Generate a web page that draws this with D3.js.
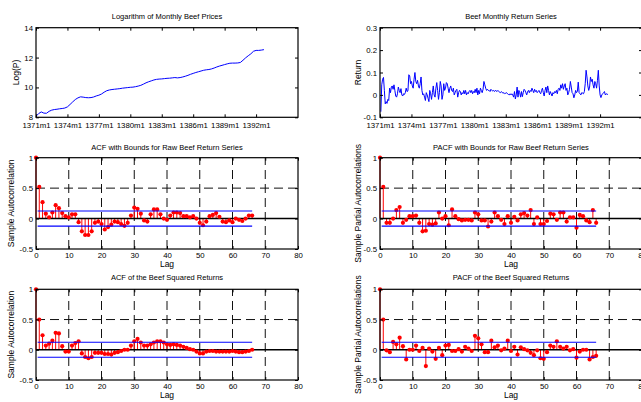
<!DOCTYPE html>
<html>
<head>
<meta charset="utf-8">
<script src="https://cdn.jsdelivr.net/npm/d3@7"></script>
<style>
body { margin: 0; background: #fff; }
svg text { font-family: Arial, "Liberation Sans", sans-serif; fill: #000; }
</style>
</head>
<body>
<div id="container"></div>
<script>
// ---- data ----
let dateTicks = ["1371m1","1374m1","1377m1","1380m1","1383m1","1386m1","1389m1","1392m1"];

// log price, one value every 3 months from 1371m1
let logPrice = [
  8.07, 8.25, 8.36, 8.28, 8.27, 8.4, 8.48, 8.52, 8.54, 8.57,
  8.59, 8.62, 8.7, 8.86, 9.03, 9.19, 9.3, 9.37, 9.35, 9.32,
  9.31, 9.32, 9.36, 9.43, 9.48, 9.56, 9.68, 9.78, 9.83, 9.86,
  9.88, 9.9, 9.92, 9.95, 9.97, 9.99, 10.01, 10.02, 10.05, 10.09,
  10.14, 10.22, 10.31, 10.38, 10.44, 10.5, 10.54, 10.56, 10.57, 10.59,
  10.61, 10.62, 10.64, 10.66, 10.64, 10.66, 10.7, 10.75, 10.81, 10.88,
  10.94, 11.0, 11.05, 11.1, 11.15, 11.18, 11.2, 11.24, 11.3, 11.37,
  11.43, 11.48, 11.53, 11.58, 11.62, 11.63, 11.63, 11.64, 11.67, 11.82,
  11.98, 12.12, 12.25, 12.42, 12.48, 12.48, 12.5, 12.53
];

// monthly returns from 1371m2
let returns = [
  -0.075, 0.045, 0.07, 0.078, 0.02, -0.04, -0.03, -0.038, -0.02, -0.025,
  0.03, 0.01, 0.035, 0.04, 0.025, 0.045, 0.02, -0.005, -0.01, 0.005,
  0.035, 0.02, 0.01, 0.028, 0.0, -0.005, 0.005, 0.002, 0.01, 0.03,
  0.015, 0.018, 0.09, 0.085, 0.05, 0.06, 0.04, 0.03, 0.07, 0.1,
  0.06, 0.05, 0.065, 0.04, 0.03, 0.05, 0.08, 0.02, 0.0, 0.005,
  -0.01, -0.025, 0.01, 0.0, -0.015, -0.03, 0.02, 0.005, -0.02, 0.01,
  0.04, 0.0, -0.01, 0.03, 0.055, 0.02, -0.02, 0.01, 0.06, 0.04,
  -0.02, 0.0, 0.05, 0.02, 0.03, 0.055, 0.05, 0.03, 0.01, 0.03,
  0.04, 0.02, 0.015, 0.03, 0.0, 0.01, 0.02, 0.025, -0.01, 0.01,
  0.02, 0.015, 0.0, 0.01, 0.005, 0.02, 0.005, 0.02, 0.0, 0.01,
  0.005, 0.015, 0.02, 0.01, 0.02, 0.005, 0.015, 0.01, 0.025, 0.01,
  0.03, 0.0, 0.02, 0.005, 0.03, 0.02, 0.01, 0.025, 0.06, 0.045,
  0.03, 0.02, 0.025, 0.02, 0.02, 0.015, 0.025, 0.02, 0.018, 0.02,
  0.015, 0.02, 0.018, 0.015, 0.02, 0.015, 0.012, 0.01, 0.015, 0.01,
  0.008, 0.01, 0.005, 0.008, 0.01, 0.005, 0.002, 0.0, 0.005, 0.0,
  0.005, 0.0, -0.01, 0.015, -0.018, 0.0, 0.035, -0.01, 0.02, 0.01,
  -0.01, 0.015, -0.008, 0.01, 0.025, 0.02, 0.01, 0.0, 0.015, 0.02,
  0.01, 0.02, 0.015, 0.03, 0.02, 0.01, 0.025, 0.015, 0.02, 0.01,
  0.015, 0.02, 0.01, 0.005, 0.02, 0.03, 0.01, -0.005, 0.02, 0.035,
  0.01, 0.04, 0.02, 0.0, 0.015, 0.005, -0.005, 0.01, 0.005, 0.015,
  0.01, 0.02, 0.005, 0.025, 0.03, 0.02, 0.045, 0.03, 0.05, 0.025,
  0.04, 0.05, 0.02, 0.03, 0.0, 0.01, 0.025, 0.06, 0.035, 0.01,
  0.005, -0.013, 0.0, 0.02, 0.01, 0.015, 0.057, 0.01, 0.005, 0.0,
  0.01, 0.008, 0.005, 0.015, 0.05, 0.11, 0.08, 0.04, 0.02, 0.035,
  0.08, 0.06, 0.07, 0.045, 0.03, 0.06, 0.05, 0.03, 0.065, 0.11,
  0.04, 0.0, -0.012, 0.0, 0.005, 0.01, 0.015, 0.0, 0.005, 0.003, 0.002
];

// lags 0..66
let acfRaw = [
  1, 0.52, 0.27, 0.08, 0.02, 0.1, 0.22, 0.17, 0.09, 0.04,
  0.02, 0.07, 0.07, -0.06, -0.21, -0.27, -0.27, -0.21, -0.07, -0.05,
  -0.09, -0.18, -0.14, -0.1, -0.05, -0.06, -0.09, -0.12, -0.07, 0.05,
  0.18, 0.16, 0.08, -0.03, -0.05, 0.07, 0.15, 0.15, 0.07, 0.0,
  -0.02, 0.05, 0.1, 0.1, 0.09, 0.04, 0.04, 0.02, 0.04, 0.0,
  -0.07, -0.11, -0.05, 0.04, 0.06, 0.09, 0.03, -0.05, -0.06, -0.03,
  -0.06, 0.0, -0.02, -0.04, 0.0, 0.05, 0.05
];
let pacfRaw = [
  1, 0.52, -0.07, -0.07, 0.0, 0.14, 0.19, -0.07, -0.02, 0.04,
  0.04, 0.05, -0.07, -0.21, -0.2, -0.09, -0.1, -0.08, 0.1, 0.0,
  0.04, -0.11, 0.15, 0.04, -0.01, -0.03, -0.02, -0.02, -0.03, 0.1,
  0.07, -0.03, -0.03, -0.13, -0.05, 0.1, 0.04, -0.02, -0.09, 0.04,
  -0.07, 0.03, -0.03, 0.07, 0.09, 0.05, 0.14, -0.09, 0.02, -0.09,
  -0.09, -0.04, 0.08, 0.07, -0.02, 0.1, 0.1, -0.05, 0.02, 0.02,
  -0.15, 0.06, 0.04, -0.03, -0.06, 0.14, -0.07
];
let acfSq = [
  1, 0.5, 0.24, 0.07, 0.1, 0.15, 0.28, 0.27, 0.06, -0.03,
  -0.03, 0.07, 0.11, 0.14, -0.06, -0.12, -0.14, -0.12, -0.05, -0.05,
  -0.05, -0.07, -0.07, -0.08, -0.05, -0.04, -0.02, 0.0, 0.0, 0.07,
  0.14, 0.18, 0.12, 0.07, 0.07, 0.09, 0.12, 0.14, 0.14, 0.12,
  0.09, 0.08, 0.09, 0.08, 0.07, 0.05, 0.03, 0.01, 0.0, -0.03,
  -0.06, -0.06, -0.03, -0.02, -0.02, -0.03, -0.03, -0.03, -0.03, -0.03,
  -0.02, -0.03, -0.04, -0.04, -0.03, -0.02, 0.0
];
let pacfSq = [
  1, 0.5, -0.01, -0.04, 0.13, 0.09, 0.2, 0.06, -0.16, 0.0,
  0.0, 0.07, -0.02, 0.03, -0.27, 0.02, -0.03, -0.15, 0.03, -0.09,
  0.07, 0.08, -0.02, -0.02, 0.01, -0.03, 0.05, 0.02, -0.02, 0.23,
  0.19, 0.09, -0.04, -0.04, 0.15, 0.04, 0.07, -0.01, 0.02, 0.15,
  -0.02, 0.05, -0.08, 0.04, 0.01, -0.01, -0.05, -0.09, -0.01, -0.14,
  -0.15, -0.04, 0.07, 0.05, 0.14, 0.05, 0.02, 0.05, -0.01, 0.01,
  -0.13, -0.03, 0.0, 0.0, -0.16, -0.12, -0.1
];
let bound = 0.124;   // 2/sqrt(n)

let priceTicks = [8, 10, 12, 14];
let returnTicks = [-0.1, 0, 0.1, 0.2, 0.3];
let acfTicks = [-0.5, 0, 0.5, 1];
let lagTicks = [0, 10, 20, 30, 40, 50, 60, 70, 80];

// ---- layout ----
let colLeft = [36, 380];
let rowTop = [27.7, 157.7, 289.3];
let rowH = [89.6, 91.3, 90.7];
let titleGap = [9, 7.3, 8.9];
let plotW = 262;

let svg = d3.select("#container")
  .append("svg")
    .attr("width", 641)
    .attr("height", 402)
;

function makePanel(col, row, title, ylab, ylabOff) {
  let h = rowH[row];
  let g = svg.append("g")
    .attr("transform", "translate(" + colLeft[col] + "," + rowTop[row] + ")");
  g.append("text")
    .attr("x", plotW / 2)
    .attr("y", -titleGap[row])
    .attr("text-anchor", "middle")
    .attr("font-size", 7.5)
    .text(title);
  g.append("text")
    .attr("transform", "translate(" + ylabOff + "," + (h / 2) + ") rotate(-90)")
    .attr("text-anchor", "middle")
    .attr("font-size", 8.5)
    .text(ylab);
  return g;
}

function drawAxes(g, x, y, h, xVals, xFormat, yVals, xPad) {
  let fmt = d => String(d);
  g.append("g").attr("transform", "translate(0," + h + ")")
    .call(d3.axisBottom(x).tickValues(xVals).tickFormat(xFormat).tickSize(-3).tickPadding(xPad));
  g.append("g")
    .call(d3.axisTop(x).tickValues(xVals).tickFormat("").tickSize(-3));
  g.append("g")
    .call(d3.axisLeft(y).tickValues(yVals).tickFormat(fmt).tickSize(-3).tickPadding(3));
  g.append("g").attr("transform", "translate(" + plotW + ",0)")
    .call(d3.axisRight(y).tickValues(yVals).tickFormat("").tickSize(-3));
  g.selectAll(".domain").remove();
  g.selectAll(".tick line").attr("stroke", "#000").attr("stroke-width", 1);
  g.selectAll(".tick text").attr("font-size", 7.8).attr("font-family", null).attr("fill", "#000");
  g.append("rect")
    .attr("x", 0).attr("y", 0)
    .attr("width", plotW).attr("height", h)
    .attr("fill", "none")
    .attr("stroke", "#000")
    .attr("stroke-width", 1.2);
}

// ---- time series panels ----
function timePanel(col, title, ylab, ylabOff, values, step, start, yDomain, yVals) {
  let h = rowH[0];
  let g = makePanel(col, 0, title, ylab, ylabOff);
  let x = d3.scaleLinear().domain([0, 300]).range([0, plotW]);
  let y = d3.scaleLinear().domain(yDomain).range([h, 0]);
  let line = d3.line()
    .x((d, i) => x(start + i * step))
    .y(d => y(d));
  g.append("path")
    .datum(values)
    .attr("d", line)
    .attr("fill", "none")
    .attr("stroke", "#0000ff")
    .attr("stroke-width", 1);
  drawAxes(g, x, y, h, dateTicks.map((d, i) => i * 36), (d, i) => dateTicks[i], yVals, 5);
}

timePanel(0, "Logarithm of Monthly Beef Prices", "Log(P)", -17, logPrice, 3, 0, [8, 14], priceTicks);
timePanel(1, "Beef Monthly Return Series", "Return", -19.3, returns, 1, 1, [-0.1, 0.3], returnTicks);

// ---- correlogram panels ----
function corrPanel(col, row, title, ylab, ylabOff, values) {
  let h = rowH[row];
  let g = makePanel(col, row, title, ylab, ylabOff);
  let x = d3.scaleLinear().domain([0, 80]).range([0, plotW]);
  let y = d3.scaleLinear().domain([-0.5, 1]).range([h, 0]);

  g.append("text")
    .attr("x", plotW / 2)
    .attr("y", h + 18)
    .attr("text-anchor", "middle")
    .attr("font-size", 8.5)
    .text("Lag");

  // dashed grid
  g.selectAll(".vgrid").data(lagTicks.slice(1, -1)).enter()
    .append("line")
      .attr("x1", d => x(d)).attr("x2", d => x(d))
      .attr("y1", h).attr("y2", 0)
      .attr("stroke", "#111")
      .attr("stroke-width", 1)
      .attr("stroke-dasharray", "9,5");
  g.append("line")
    .attr("x1", 0).attr("x2", plotW)
    .attr("y1", y(0.5)).attr("y2", y(0.5))
    .attr("stroke", "#111")
    .attr("stroke-width", 1)
    .attr("stroke-dasharray", "9,5");

  // stems
  g.selectAll(".stem").data(values).enter()
    .append("line")
      .attr("x1", (d, i) => x(i)).attr("x2", (d, i) => x(i))
      .attr("y1", y(0)).attr("y2", d => y(d))
      .attr("stroke", "#ff0000")
      .attr("stroke-width", 1);

  g.append("line")
    .attr("x1", 0).attr("x2", plotW)
    .attr("y1", y(0)).attr("y2", y(0))
    .attr("stroke", "#000")
    .attr("stroke-width", 1.6);

  g.selectAll(".dot").data(values).enter()
    .append("circle")
      .attr("cx", (d, i) => x(i))
      .attr("cy", d => y(d))
      .attr("r", 2.1)
      .attr("fill", "#ff0000");

  // bounds
  [bound, -bound].forEach(b => {
    g.append("line")
      .attr("x1", x(0.5)).attr("x2", x(values.length - 1))
      .attr("y1", y(b)).attr("y2", y(b))
      .attr("stroke", "#0000ff")
      .attr("stroke-width", 1.2);
  });

  drawAxes(g, x, y, h, lagTicks, d => String(d), acfTicks, 3);
}

corrPanel(0, 1, "ACF with Bounds for Raw Beef Return Series", "Sample Autocorrelation", -21.7, acfRaw);
corrPanel(1, 1, "PACF with Bounds for Raw Beef Return Series", "Sample Partial Autocorrelations", -19.5, pacfRaw);
corrPanel(0, 2, "ACF of the Beef Squared Returns", "Sample Autocorrelation", -22.5, acfSq);
corrPanel(1, 2, "PACF of the Beef Squared Returns", "Sample Partial Autocorrelations", -19.5, pacfSq);
</script>
</body>
</html>
